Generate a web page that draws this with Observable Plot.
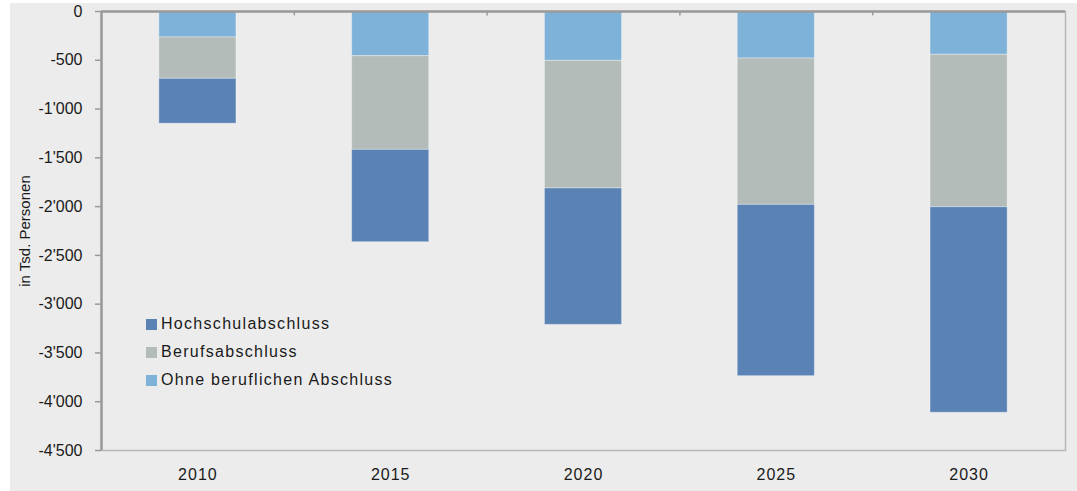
<!DOCTYPE html>
<html>
<head>
<meta charset="utf-8">
<script src="https://cdn.jsdelivr.net/npm/d3@7"></script>
<script src="https://cdn.jsdelivr.net/npm/@observablehq/plot@0.6"></script>
<style>
  html, body { margin: 0; padding: 0; background: #ffffff; }
  #wrap { position: absolute; left: 10px; top: 3px; width: 1067px; height: 488px; background: #ececec; overflow: hidden; }
  #legend { position: absolute; left: 136px; top: 307px; font-family: "Liberation Sans", Arial, sans-serif; font-size: 16px; letter-spacing: 1.3px; color: #1a1a1a; }
  #legend .row { display: flex; align-items: center; height: 28px; }
  #legend .sw { width: 11px; height: 11px; margin-right: 4px; }
</style>
</head>
<body>
<div id="wrap"><div id="chart"></div><div id="legend"></div></div>
<script>
const years = ["2010", "2015", "2020", "2025", "2030"];
const seriesNames = ["Ohne beruflichen Abschluss", "Berufsabschluss", "Hochschulabschluss"];
const legendOrder = ["Hochschulabschluss", "Berufsabschluss", "Ohne beruflichen Abschluss"];
const seriesColors = ["#7fb2d8", "#b4bcb9", "#5a82b5"];
const ohne = [-266, -458, -506, -482, -444];
const beruf = [-424, -960, -1308, -1500, -1562];
const hoch = [-460, -947, -1398, -1756, -2107];
const yTicks = [0, -500, -1000, -1500, -2000, -2500, -3000, -3500, -4000, -4500];
const yLabel = "in Tsd. Personen";

const seriesValues = [ohne, beruf, hoch];
const data = [];
years.forEach((yr, i) => {
  seriesNames.forEach((s, k) => data.push({year: yr, series: s, value: seriesValues[k][i]}));
});

const fmt = d3.formatLocale({decimal: ".", thousands: "'", grouping: [3], currency: ["", ""], minus: "-"}).format(",");

const chart = Plot.plot({
  width: 1067,
  height: 488,
  marginLeft: 91,
  marginRight: 12,
  marginTop: 8,
  marginBottom: 41,
  style: {background: "#ececec", fontFamily: "'Liberation Sans', Arial, sans-serif", color: "#1a1a1a"},
  x: {domain: years, paddingInner: 0.6, paddingOuter: 0.3, round: false},
  y: {domain: [-4500, 0]},
  color: {domain: seriesNames, range: seriesColors},
  marks: [
    Plot.frame({stroke: "#b8b8b8", strokeWidth: 1.5}),
    Plot.barY(data, {x: "year", y: "value", fill: "series", stroke: "rgba(255,255,255,0.35)", strokeWidth: 1}),
    Plot.ruleY([0], {stroke: "#9a9a9a", strokeWidth: 2.5}),
    Plot.ruleX(years.slice(0, 4), {x: d => d, y1: 0, y2: -45, dx: 96.4, stroke: "#9a9a9a", strokeWidth: 1.5}),
    Plot.axisY(yTicks, {tickFormat: fmt, tickSize: 6, tickPadding: 13, label: null, stroke: "#9a9a9a", strokeWidth: 1.5, fontSize: 16, style: "letter-spacing:0.7px", fill: "#1a1a1a"}),
    Plot.ruleX([years[0]], {x: d => d, dx: -96.4, y1: -4500, y2: 0, stroke: "#9a9a9a", strokeWidth: 2.5}),
    Plot.axisX({anchor: "bottom", tickSize: 0, tickPadding: 18, label: null, fontSize: 16, fill: "#1a1a1a"}),
    Plot.text([yLabel], {frameAnchor: "left", textAnchor: "middle", rotate: -90, dx: -76, fontSize: 15, fill: "#1a1a1a"})
  ]
});
chart.querySelectorAll("text").forEach(t => {
  if (/^20\d\d$/.test(t.textContent)) t.style.letterSpacing = "1px";
});
document.getElementById("chart").appendChild(chart);

const leg = document.getElementById("legend");
legendOrder.forEach(name => {
  const row = document.createElement("div");
  row.className = "row";
  const sw = document.createElement("div");
  sw.className = "sw";
  sw.style.background = seriesColors[seriesNames.indexOf(name)];
  const lab = document.createElement("span");
  lab.textContent = name;
  row.appendChild(sw);
  row.appendChild(lab);
  leg.appendChild(row);
});
</script>
</body>
</html>
